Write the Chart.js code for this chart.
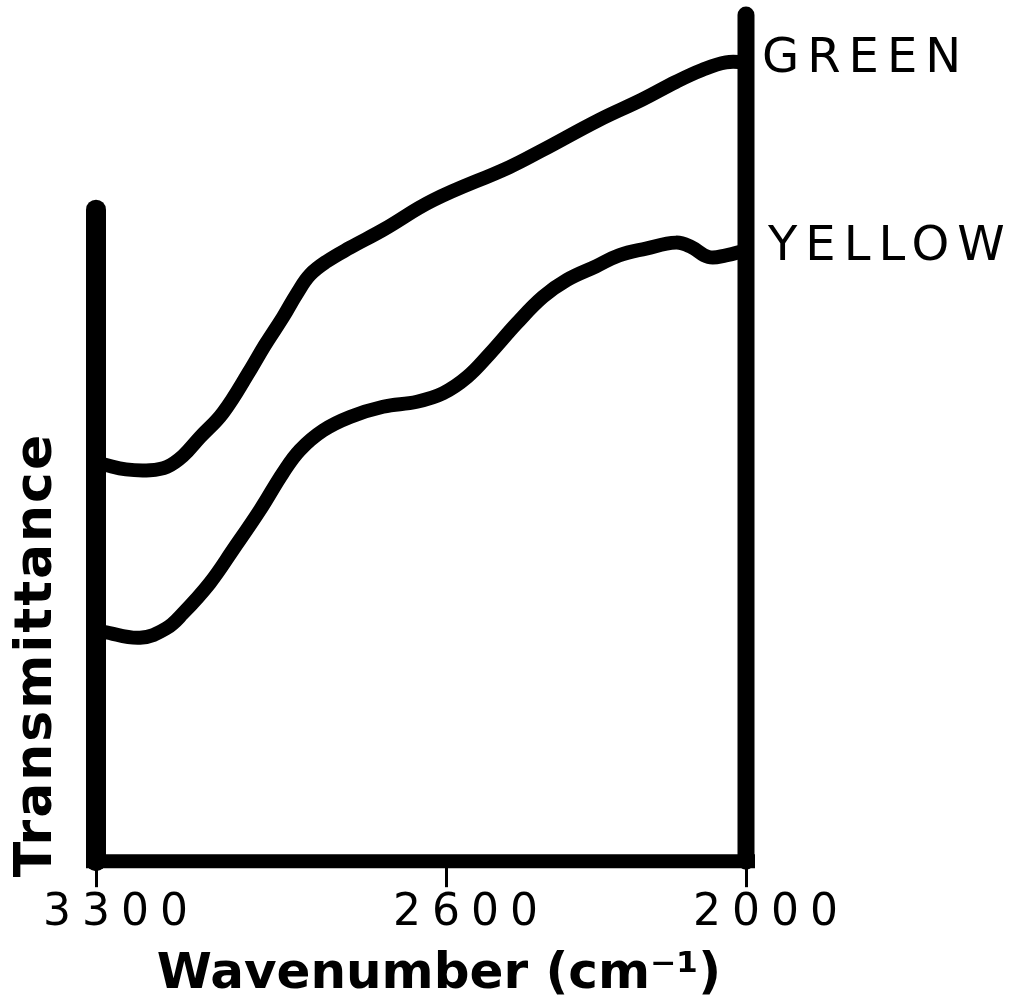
<!DOCTYPE html>
<html>
<head>
<meta charset="utf-8">
<script src="https://cdn.jsdelivr.net/npm/chart.js@4"></script>
<style>
  html, body { margin: 0; padding: 0; background: #fff; }
  #wrap { width: 1018px; height: 1003px; }
</style>
</head>
<body>
<div id="wrap"><canvas id="chart"></canvas></div>
<script>
// values (transmittance in arbitrary units, 0 = bottom axis)
const tickValues = [3300, 2600, 2000];
const seriesNames = ['GREEN', 'YELLOW'];

const greenX = [3285, 3240, 3192, 3158, 3126, 3092, 3046, 2990, 2962, 2926, 2898, 2872, 2838, 2792, 2726, 2626, 2474, 2408, 2294, 2208, 2140, 2088, 2040, 2000];
const greenY = [46.9, 46.3, 46.2, 46.6, 47.9, 50.1, 53.0, 58.2, 61.0, 64.3, 67.1, 69.3, 70.9, 72.5, 74.6, 78.1, 82.0, 84.0, 87.6, 90.0, 92.1, 93.5, 94.4, 94.4];

const yellowX = [3285, 3212, 3160, 3126, 3072, 3026, 2972, 2926, 2892, 2846, 2792, 2726, 2658, 2606, 2558, 2512, 2458, 2406, 2358, 2300, 2254, 2200, 2140, 2110, 2075, 2040, 2000];
const yellowY = [27.1, 26.4, 27.5, 29.3, 32.9, 36.8, 41.5, 45.9, 48.6, 50.9, 52.5, 53.7, 54.3, 55.3, 57.2, 60.0, 63.6, 66.7, 68.7, 70.3, 71.6, 72.4, 73.1, 72.6, 71.4, 71.6, 72.2];

const leftAxisTop = 77; // left frame line stops short of the top

const toPoints = (xs, ys) => xs.map((x, i) => ({ x, y: ys[i] }));

const spacing = {
  id: 'spacing',
  beforeLayout(chart) { chart.ctx.letterSpacing = '11px'; },
  beforeDraw(chart) { chart.ctx.letterSpacing = '11px'; },
};

const frame = {
  id: 'frame',
  afterDatasetsDraw(chart) {
    const { ctx, scales: { x, y } } = chart;
    const left = x.getPixelForValue(3300);
    const right = x.getPixelForValue(2000);
    const bottom = y.getPixelForValue(0);
    const seg = (x1, y1, x2, y2) => {
      ctx.beginPath();
      ctx.moveTo(x1, y1);
      ctx.lineTo(x2, y2);
      ctx.stroke();
    };
    ctx.save();
    ctx.strokeStyle = '#000';
    ctx.lineCap = 'round';
    ctx.lineWidth = 20;
    seg(left, bottom, left, y.getPixelForValue(leftAxisTop));
    ctx.lineWidth = 17;
    seg(right, bottom, right, y.getPixelForValue(100));
    ctx.lineCap = 'butt';
    ctx.lineWidth = 14;
    seg(left - 10, bottom, right + 9, bottom);
    ctx.restore();
  },
};

const labels = {
  id: 'labels',
  afterDraw(chart) {
    const { ctx, scales: { x, y } } = chart;
    ctx.save();
    ctx.fillStyle = '#000';

    // series names at the right-hand end of each curve
    ctx.font = '48px "DejaVu Sans"';
    ctx.letterSpacing = '8px';
    ctx.textAlign = 'left';
    ctx.textBaseline = 'middle';
    chart.data.datasets.forEach((ds, i) => {
      const last = ds.data[ds.data.length - 1];
      ctx.fillText(ds.label, x.getPixelForValue(last.x) + 16 + i * 6, y.getPixelForValue(last.y) - 3);
    });

    // x title
    ctx.font = 'bold 50px "DejaVu Sans"';
    ctx.letterSpacing = '0px';
    ctx.textAlign = 'center';
    ctx.textBaseline = 'alphabetic';
    ctx.fillText('Wavenumber (cm\u207B\u00B9)', (x.left + x.right) / 2 + 18, 988);

    // y title
    ctx.translate(37, 655);
    ctx.rotate(-Math.PI / 2);
    ctx.font = 'bold 52px "DejaVu Sans"';
    ctx.letterSpacing = '2px';
    ctx.textBaseline = 'middle';
    ctx.fillText('Transmittance', 0, 0);
    ctx.restore();
  },
};

new Chart(document.getElementById('chart'), {
  type: 'line',
  data: {
    datasets: [
      { label: seriesNames[0], data: toPoints(greenX, greenY) },
      { label: seriesNames[1], data: toPoints(yellowX, yellowY) },
    ],
  },
  options: {
    responsive: true,
    maintainAspectRatio: false,
    animation: false,
    layout: { padding: { left: 96, right: 272, top: 15, bottom: 63 } },
    elements: {
      line: {
        borderColor: '#000',
        borderWidth: 14,
        borderCapStyle: 'round',
        borderJoinStyle: 'round',
        tension: 0.4,
      },
      point: { radius: 0, hoverRadius: 0 },
    },
    plugins: { legend: { display: false }, tooltip: { enabled: false } },
    scales: {
      x: {
        type: 'linear',
        reverse: true,
        min: 2000,
        max: 3300,
        afterBuildTicks: (scale) => { scale.ticks = tickValues.map((value) => ({ value })); },
        grid: { drawOnChartArea: false, tickLength: 26, color: '#000', lineWidth: 3 },
        border: { display: false },
        ticks: {
          color: '#000',
          font: { family: 'DejaVu Sans', size: 44 },
          padding: 0,
          labelOffset: 25,
          maxRotation: 0,
          autoSkip: false,
          callback: (v) => String(v),
        },
      },
      y: { min: 0, max: 100, display: false },
    },
  },
  plugins: [spacing, frame, labels],
});
</script>
</body>
</html>
